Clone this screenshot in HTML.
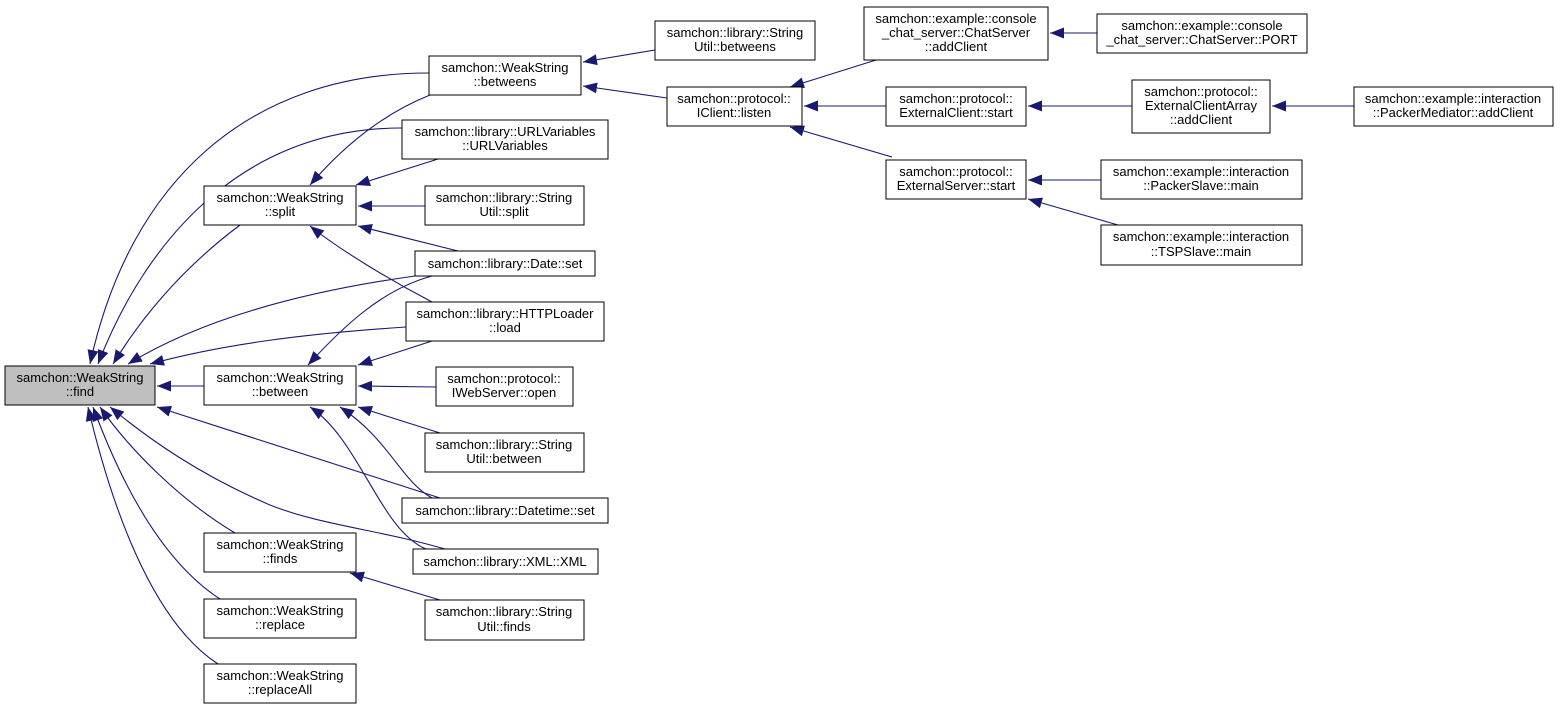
<!DOCTYPE html>
<html><head><meta charset="utf-8"><style>
body{margin:0;background:#fff}
svg text{font-family:"Liberation Sans",sans-serif;font-size:13px;fill:#000}
</style></head><body>
<svg width="1560" height="710" xmlns="http://www.w3.org/2000/svg">
<defs><marker id="a" markerUnits="userSpaceOnUse" markerWidth="16" markerHeight="12" refX="14" refY="5.5" orient="auto"><path d="M0,0 L14,5.5 L0,11 Z" fill="#191970"/></marker></defs>
<g fill="none" stroke="#191970" stroke-width="1.1" marker-end="url(#a)">
<path d="M429,73 C250,73 130,180 90,364"/>
<path d="M402,128 C250,128 150,230 98,364"/>
<path d="M240,225 C180,270 140,320 113,364"/>
<path d="M415,276 C300,292 200,320 128,364"/>
<path d="M406,327 C300,334 220,345 150,364"/>
<path d="M204,386 L157,386"/>
<path d="M440,498 L157,407"/>
<path d="M445,549 C380,530 320,525 270,505 C200,475 150,440 110,407"/>
<path d="M235,533 C180,500 130,450 100,407"/>
<path d="M220,599 C160,560 120,480 93,407"/>
<path d="M218,664 C150,620 110,500 88,407"/>
<path d="M430,95 C380,115 340,150 310,185"/>
<path d="M655,50 L583,62"/>
<path d="M667,98 L583,86"/>
<path d="M438,159 L356,185"/>
<path d="M425,206 L358,206"/>
<path d="M458,251 L358,226"/>
<path d="M432,302 C390,280 340,250 310,226"/>
<path d="M432,276 C380,290 340,330 308,365"/>
<path d="M432,341 L358,365"/>
<path d="M436,387 L358,386"/>
<path d="M440,433 L358,407"/>
<path d="M432,498 C400,480 390,440 340,407"/>
<path d="M426,549 C380,530 360,440 310,407"/>
<path d="M440,600 L350,573"/>
<path d="M876,60 L790,87"/>
<path d="M886,106 L804,106"/>
<path d="M892,157 L790,127"/>
<path d="M1097,33 L1050,33"/>
<path d="M1132,106 L1028,106"/>
<path d="M1354,106 L1272,106"/>
<path d="M1101,180 L1028,180"/>
<path d="M1118,225 L1028,199"/>
</g>
<g stroke="#000" stroke-width="1" fill="#fff">
<rect x="5" y="366" width="150" height="39" fill="#bfbfbf"/>
<rect x="429" y="56" width="152" height="39"/>
<rect x="402" y="120" width="206" height="39"/>
<rect x="204" y="186" width="152" height="39"/>
<rect x="425" y="186" width="159" height="39"/>
<rect x="415" y="251" width="180" height="25"/>
<rect x="406" y="302" width="198" height="39"/>
<rect x="204" y="366" width="152" height="39"/>
<rect x="436" y="367" width="137" height="39"/>
<rect x="425" y="433" width="159" height="39"/>
<rect x="402" y="498" width="206" height="25"/>
<rect x="413" y="549" width="185" height="25"/>
<rect x="204" y="533" width="152" height="39"/>
<rect x="425" y="600" width="159" height="40"/>
<rect x="204" y="599" width="152" height="39"/>
<rect x="204" y="664" width="152" height="39"/>
<rect x="655" y="21" width="160" height="39"/>
<rect x="667" y="87" width="135" height="39"/>
<rect x="864" y="7" width="184" height="53"/>
<rect x="1097" y="14" width="210" height="39"/>
<rect x="886" y="87" width="140" height="39"/>
<rect x="1132" y="80" width="138" height="53"/>
<rect x="1354" y="87" width="199" height="39"/>
<rect x="886" y="160" width="140" height="39"/>
<rect x="1101" y="160" width="201" height="39"/>
<rect x="1101" y="225" width="201" height="40"/>
</g>
<g text-anchor="middle">
<text x="80" y="382">samchon::WeakString</text><text x="80" y="396">::find</text>
<text x="505" y="72">samchon::WeakString</text><text x="505" y="86">::betweens</text>
<text x="505" y="136">samchon::library::URLVariables</text><text x="505" y="150">::URLVariables</text>
<text x="280" y="202">samchon::WeakString</text><text x="280" y="216">::split</text>
<text x="504" y="202">samchon::library::String</text><text x="504" y="216">Util::split</text>
<text x="505" y="268">samchon::library::Date::set</text>
<text x="505" y="318">samchon::library::HTTPLoader</text><text x="505" y="332">::load</text>
<text x="280" y="382">samchon::WeakString</text><text x="280" y="396">::between</text>
<text x="504" y="383">samchon::protocol::</text><text x="504" y="397">IWebServer::open</text>
<text x="504" y="449">samchon::library::String</text><text x="504" y="463">Util::between</text>
<text x="505" y="515">samchon::library::Datetime::set</text>
<text x="505" y="566">samchon::library::XML::XML</text>
<text x="280" y="549">samchon::WeakString</text><text x="280" y="563">::finds</text>
<text x="504" y="616">samchon::library::String</text><text x="504" y="631">Util::finds</text>
<text x="280" y="615">samchon::WeakString</text><text x="280" y="629">::replace</text>
<text x="280" y="680">samchon::WeakString</text><text x="280" y="694">::replaceAll</text>
<text x="735" y="37">samchon::library::String</text><text x="735" y="51">Util::betweens</text>
<text x="734" y="103">samchon::protocol::</text><text x="734" y="117">IClient::listen</text>
<text x="956" y="23">samchon::example::console</text><text x="956" y="37">_chat_server::ChatServer</text><text x="956" y="51">::addClient</text>
<text x="1202" y="30">samchon::example::console</text><text x="1202" y="44">_chat_server::ChatServer::PORT</text>
<text x="956" y="103">samchon::protocol::</text><text x="956" y="117">ExternalClient::start</text>
<text x="1201" y="96">samchon::protocol::</text><text x="1201" y="110">ExternalClientArray</text><text x="1201" y="124">::addClient</text>
<text x="1453" y="103">samchon::example::interaction</text><text x="1453" y="117">::PackerMediator::addClient</text>
<text x="956" y="176">samchon::protocol::</text><text x="956" y="190">ExternalServer::start</text>
<text x="1201" y="176">samchon::example::interaction</text><text x="1201" y="190">::PackerSlave::main</text>
<text x="1201" y="241">samchon::example::interaction</text><text x="1201" y="256">::TSPSlave::main</text>
</g>
</svg>
</body></html>
